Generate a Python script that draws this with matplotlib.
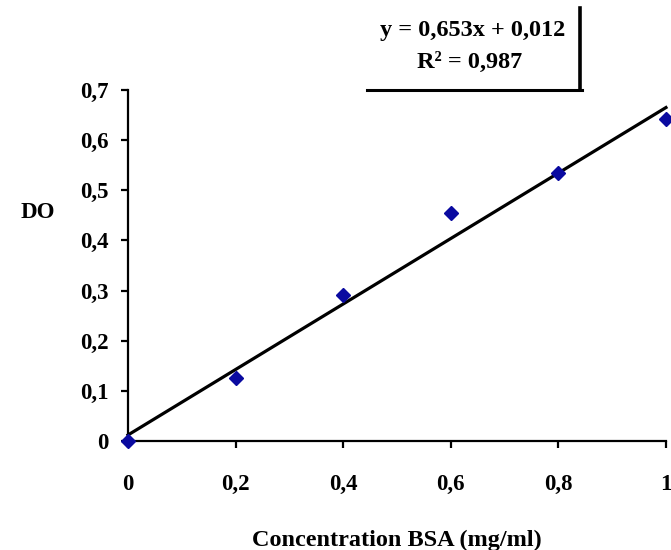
import numpy as np
import matplotlib.pyplot as plt
from matplotlib.lines import Line2D

# BSA standard curve
conc = [0.0, 0.2, 0.4, 0.6, 0.8, 1.0]
do_values = [0.0, 0.126, 0.291, 0.454, 0.535, 0.642]
slope = 0.653
intercept = 0.012
r2 = 0.987

x_ticks = [0, 0.2, 0.4, 0.6, 0.8, 1]
x_ticklabels = ['0', '0,2', '0,4', '0,6', '0,8', '1']
y_ticks = [0, 0.1, 0.2, 0.3, 0.4, 0.5, 0.6, 0.7]
y_ticklabels = ['0', '0,1', '0,2', '0,3', '0,4', '0,5', '0,6', '0,7']

plt.rcParams['font.family'] = ['Liberation Serif', 'DejaVu Serif']
plt.rcParams['font.weight'] = 'bold'

fig = plt.figure(figsize=(6.71, 5.5), dpi=100)
ax = fig.add_axes([0.1908, 0.1982, 0.8017, 0.6382])

# trend line
xs = np.array([0.0, 1.0])
ax.plot(xs, slope * xs + intercept, color='black', linewidth=2.3, zorder=2, clip_on=False)
ax.plot(conc, do_values, linestyle='none', marker='D', markersize=7,
        color='#0a0aa0', zorder=3, clip_on=False)

ax.set_xlim(0, 1)
ax.set_ylim(0, 0.7)
ax.spines['top'].set_visible(False)
ax.spines['right'].set_visible(False)
for s in ['left', 'bottom']:
    ax.spines[s].set_linewidth(1.6)

ax.set_xticks(x_ticks)
ax.set_xticklabels(x_ticklabels)
ax.set_yticks(y_ticks)
ax.set_yticklabels(y_ticklabels)
ax.tick_params(axis='both', direction='out', length=5, width=1.6, labelsize=16.5)
ax.tick_params(axis='x', pad=19)
ax.tick_params(axis='y', pad=9)
for lab in ax.get_xticklabels() + ax.get_yticklabels():
    lab.set_fontweight('bold')

ax.set_xlabel('Concentration BSA (mg/ml)', fontsize=17.5, fontweight='bold')
ax.xaxis.set_label_coords(0.5, -0.254)
ax.set_ylabel('DO', fontsize=16.5, fontweight='bold', rotation=0, va='center')
ax.yaxis.set_label_coords(-0.167, 0.65)

# equation box
fig.text(0.705, 0.945, f'y = {slope:.3f}x + {intercept:.3f}'.replace('.', ','),
         ha='center', va='center', fontsize=17.5, fontweight='bold')
fig.text(0.700, 0.887, f'R² = {r2:.3f}'.replace('.', ','),
         ha='center', va='center', fontsize=17.5, fontweight='bold')
fig.add_artist(Line2D([0.547, 0.867], [0.836, 0.836], color='black', linewidth=2.2,
                      transform=fig.transFigure))
fig.add_artist(Line2D([0.864, 0.864], [0.836, 0.985], color='black', linewidth=2.6,
                      transform=fig.transFigure))

fig.savefig('out.png', dpi=100)
